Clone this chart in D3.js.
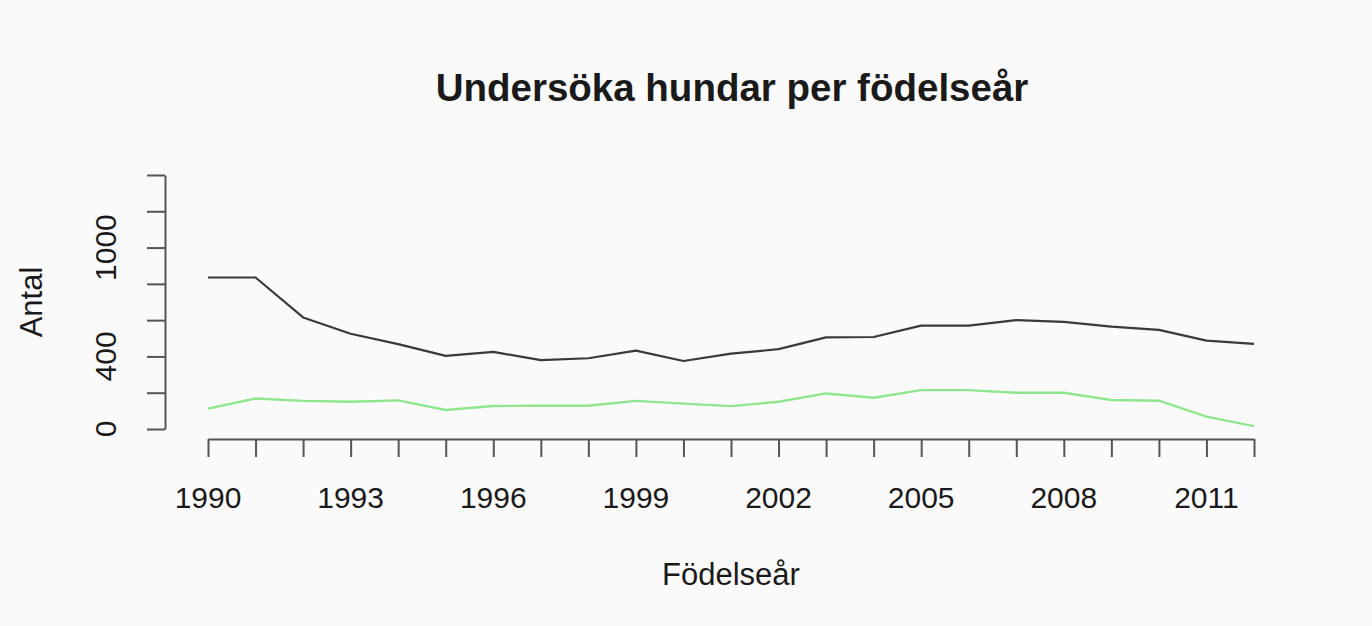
<!DOCTYPE html>
<html>
<head>
<meta charset="utf-8">
<script src="https://cdn.jsdelivr.net/npm/d3@7"></script>
<style>
  html, body { margin: 0; padding: 0; background: #fafafa; }
  svg { display: block; }
  text { font-family: "Liberation Sans", Arial, sans-serif; fill: #1a1a1a; }
</style>
</head>
<body>
<svg id="chart" width="1372" height="626"></svg>
<script>
const years = [1990,1991,1992,1993,1994,1995,1996,1997,1998,1999,2000,2001,2002,2003,2004,2005,2006,2007,2008,2009,2010,2011,2012];
const totalDogs = [835,835,615,525,468,403,425,380,390,432,375,415,440,505,507,570,570,600,590,564,546,487,469];
const examinedDogs = [112,168,155,150,158,105,127,128,128,155,140,126,150,196,172,214,214,200,200,160,156,68,16];
const xTickYears = d3.range(1990, 2013, 1);
const xLabelYears = [1990,1993,1996,1999,2002,2005,2008,2011];
const yTicks = [0,200,400,600,800,1000,1200,1400];
const yLabels = [0,400,1000];
const titleText = "Undersöka hundar per födelseår";
const xTitle = "Födelseår";
const yTitle = "Antal";

const svg = d3.select("#chart");
svg.append("rect").attr("width",1372).attr("height",626).attr("fill","#fafafa");

const x = d3.scaleLinear().domain([1990, 2012]).range([208, 1254]);
const y = d3.scaleLinear().domain([0, 1400]).range([429, 175]);
const axisColor = "#555";

// Title
svg.append("text").attr("x", 732).attr("y", 101).attr("text-anchor","middle")
  .attr("font-size", 38.5).attr("font-weight","bold").text(titleText);

// X axis
const xAxisY = 439;
const gx = svg.append("g").attr("transform", `translate(0,${xAxisY})`)
  .call(d3.axisBottom(x).tickValues(xTickYears).tickSize(18).tickSizeOuter(0).tickFormat(""));
gx.selectAll("path,line").attr("stroke", axisColor).attr("stroke-width", 2);
gx.selectAll("text").remove();
svg.append("g").selectAll("text").data(xLabelYears).join("text")
  .attr("x", d => x(d)).attr("y", 508).attr("text-anchor","middle")
  .attr("font-size", 30).text(d => d);

// Y axis
const yAxisX = 165;
const gy = svg.append("g").attr("transform", `translate(${yAxisX},0)`)
  .call(d3.axisLeft(y).tickValues(yTicks).tickSize(18).tickSizeOuter(0).tickFormat(""));
gy.selectAll("path,line").attr("stroke", axisColor).attr("stroke-width", 2);
gy.selectAll("text").remove();
svg.append("g").selectAll("text").data(yLabels).join("text")
  .attr("transform", d => `translate(116,${y(d)}) rotate(-90)`)
  .attr("text-anchor","middle").attr("font-size", 30).text(d => d);

// Axis titles
svg.append("text").attr("x", 731).attr("y", 585).attr("text-anchor","middle")
  .attr("font-size", 31).text(xTitle);
svg.append("text").attr("transform", `translate(42,302) rotate(-90)`)
  .attr("text-anchor","middle").attr("font-size", 31).text(yTitle);

// Lines
const line = d3.line().x((d,i) => x(years[i])).y(d => y(d));
svg.append("path").datum(totalDogs).attr("d", line).attr("fill","none")
  .attr("stroke","#3a3a3a").attr("stroke-width",2.2).attr("stroke-linejoin","round");
svg.append("path").datum(examinedDogs).attr("d", line).attr("fill","none")
  .attr("stroke","#8fe68f").attr("stroke-width",2.4).attr("stroke-linejoin","round");
</script>
</body>
</html>
